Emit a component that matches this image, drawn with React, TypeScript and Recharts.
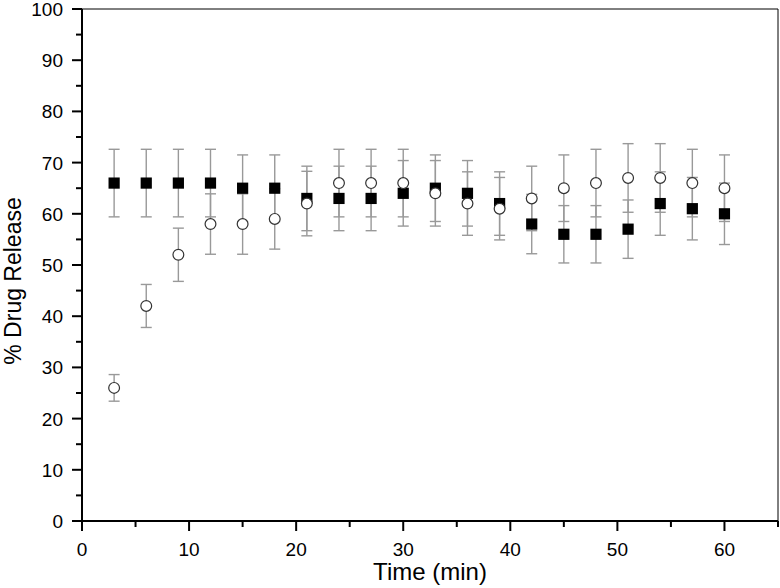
import { ScatterChart, Scatter, XAxis, YAxis, ErrorBar, ReferenceLine, Label } from "recharts";

const FONT = "'Liberation Sans', Arial, Helvetica, sans-serif";

const times = [3, 6, 9, 12, 15, 18, 21, 24, 27, 30, 33, 36, 39, 42, 45, 48, 51, 54, 57, 60];
const squareRelease = [66, 66, 66, 66, 65, 65, 63, 63, 63, 64, 65, 64, 62, 58, 56, 56, 57, 62, 61, 60];
const squareError = [6.6, 6.6, 6.6, 6.6, 6.5, 6.5, 6.3, 6.3, 6.3, 6.4, 6.5, 6.4, 6.2, 5.8, 5.6, 5.6, 5.7, 6.2, 6.1, 6.0];
const circleRelease = [26, 42, 52, 58, 58, 59, 62, 66, 66, 66, 64, 62, 61, 63, 65, 66, 67, 67, 66, 65];
const circleError = [2.6, 4.2, 5.2, 5.9, 5.9, 5.9, 6.3, 6.6, 6.6, 6.6, 6.4, 6.2, 6.1, 6.3, 6.5, 6.6, 6.7, 6.7, 6.6, 6.5];

const xTicks = [0, 5, 10, 15, 20, 25, 30, 35, 40, 45, 50, 55, 60, 65];
const yTicks = [0, 5, 10, 15, 20, 25, 30, 35, 40, 45, 50, 55, 60, 65, 70, 75, 80, 85, 90, 95, 100];

const squareData = times.map((t, i) => ({ t, release: squareRelease[i], err: squareError[i] }));
const circleData = times.map((t, i) => ({ t, release: circleRelease[i], err: circleError[i] }));

function XTick({ x, y, payload }: any) {
  const major = payload.value % 10 === 0;
  return (
    <g>
      <line x1={x} y1={y} x2={x} y2={y + (major ? 10 : 6)} stroke="#000" strokeWidth={2} />
      {major && (
        <text x={x} y={y + 35} textAnchor="middle" fontSize={19} fontFamily={FONT} fill="#000">
          {payload.value}
        </text>
      )}
    </g>
  );
}

function YTick({ x, y, payload }: any) {
  const major = payload.value % 10 === 0;
  return (
    <g>
      <line x1={x - (major ? 10 : 6)} y1={y} x2={x} y2={y} stroke="#000" strokeWidth={2} />
      {major && (
        <text x={x - 19} y={y + 7} textAnchor="end" fontSize={19} fontFamily={FONT} fill="#000">
          {payload.value}
        </text>
      )}
    </g>
  );
}

const SquareMark = (p: any) => <rect x={p.cx - 5.6} y={p.cy - 5.6} width={11.2} height={11.2} fill="#000" />;
const CircleMark = (p: any) => (
  <circle cx={p.cx} cy={p.cy} r={5.4} fill="#fff" stroke="#333" strokeWidth={1.2} />
);

export default function App() {
  return (
    <div style={{ position: "absolute", left: 0, top: 0, background: "#fff" }}>
      <ScatterChart width={780} height={588} margin={{ top: 9, right: 2, bottom: 0, left: 0 }}>
        <XAxis
          type="number"
          dataKey="t"
          domain={[0, 65]}
          ticks={xTicks}
          interval={0}
          height={67}
          tickSize={0}
          tickMargin={0}
          tickLine={false}
          axisLine={{ stroke: "#000", strokeWidth: 2 }}
          tick={<XTick />}
        >
          <Label
            content={() => (
              <text x={430} y={580} textAnchor="middle" fontSize={24} fontFamily={FONT} fill="#000">
                Time (min)
              </text>
            )}
          />
        </XAxis>
        <YAxis
          type="number"
          dataKey="release"
          domain={[0, 100]}
          ticks={yTicks}
          interval={0}
          width={82}
          tickSize={0}
          tickMargin={0}
          tickLine={false}
          axisLine={{ stroke: "#000", strokeWidth: 2 }}
          tick={<YTick />}
        >
          <Label
            content={() => (
              <text
                x={21}
                y={281}
                transform="rotate(-90 21 281)"
                textAnchor="middle"
                fontSize={23}
                fontFamily={FONT}
                fill="#000"
              >
                % Drug Release
              </text>
            )}
          />
        </YAxis>
        <ReferenceLine y={100} stroke="#000" strokeWidth={1} />
        <ReferenceLine x={65} stroke="#000" strokeWidth={1} />
        <Scatter data={squareData} shape={SquareMark} isAnimationActive={false}>
          <ErrorBar dataKey="err" direction="y" width={5.5} stroke="#999" strokeWidth={1.4} isAnimationActive={false} />
        </Scatter>
        <Scatter data={circleData} shape={CircleMark} isAnimationActive={false}>
          <ErrorBar dataKey="err" direction="y" width={5.5} stroke="#999" strokeWidth={1.4} isAnimationActive={false} />
        </Scatter>
      </ScatterChart>
    </div>
  );
}
